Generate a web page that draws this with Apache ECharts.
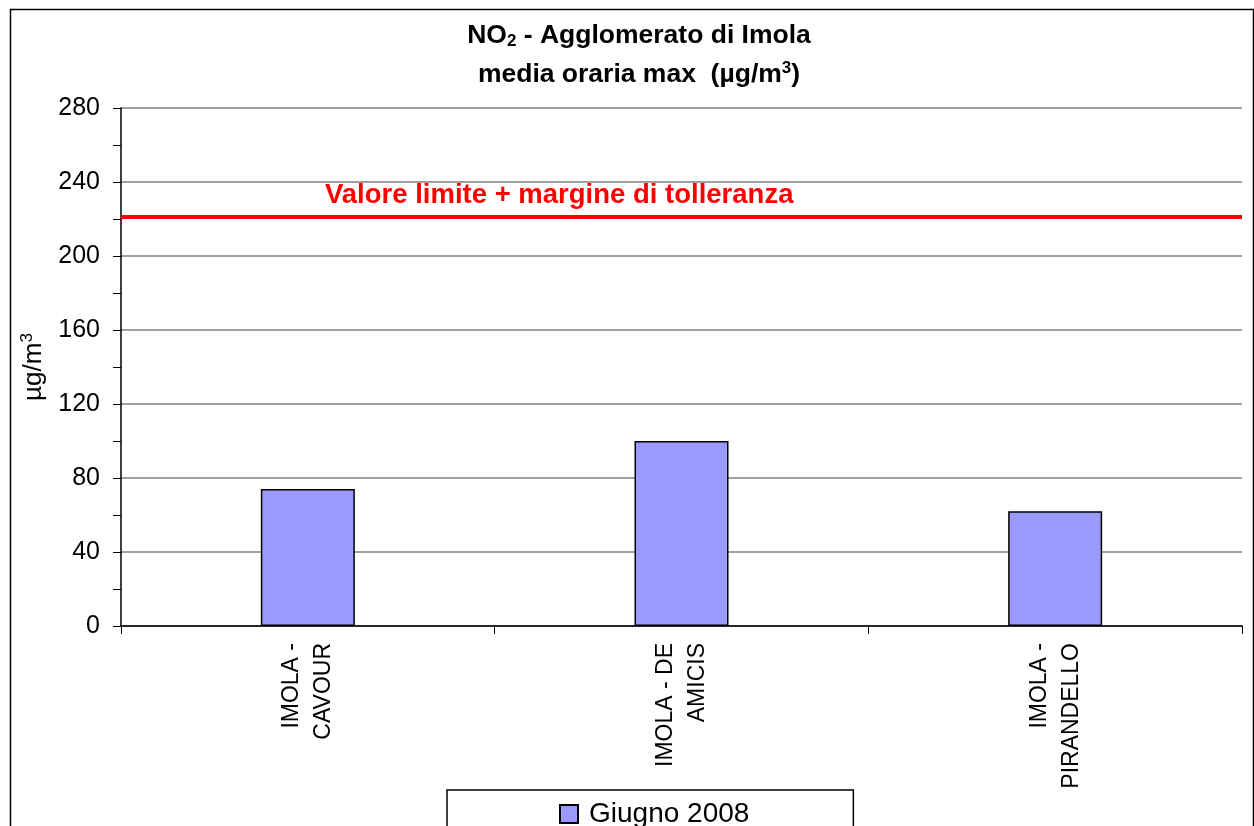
<!DOCTYPE html>
<html>
<head>
<meta charset="utf-8">
<script src="https://cdn.jsdelivr.net/npm/echarts@6/dist/echarts.min.js"></script>
<style>html,body{margin:0;padding:0;background:#fff}#c{width:1254px;height:826px}</style>
</head>
<body>
<div id="c"></div>
<script>
const categories = ['IMOLA -\nCAVOUR', 'IMOLA - DE\nAMICIS', 'IMOLA -\nPIRANDELLO'];
const seriesName = 'Giugno 2008';
const values = [74, 100, 62];
const limitValue = 221;
const limitLabel = 'Valore limite + margine di tolleranza';
const yMin = 0, yMax = 280, yStep = 40;

const chart = echarts.init(document.getElementById('c'));
chart.setOption({
  animation: false,
  backgroundColor: '#fff',
  textStyle: { fontFamily: 'Liberation Sans, Arial, sans-serif' },
  graphic: [{
    type: 'rect', left: 8, top: 7, silent: true,
    shape: { width: 1243, height: 840 },
    style: { fill: 'none', stroke: '#000', lineWidth: 1.5 }
  }],
  title: {
    left: 634, top: 11, textAlign: 'center',
    text: '{b|NO}{sub|2}{b| - Agglomerato di Imola}\n{b|media oraria max  (µg/m}{sup|3}{b|)}',
    textStyle: {
      rich: {
        b: { fontSize: 26.5, fontWeight: 'bold', color: '#000', lineHeight: 39 },
        sub: { fontSize: 17, fontWeight: 'bold', color: '#000', padding: [12, 0, 0, 0], lineHeight: 39 },
        sup: { fontSize: 17, fontWeight: 'bold', color: '#000', padding: [0, 0, 12, 0], lineHeight: 39 }
      }
    }
  },
  legend: {
    top: 790, left: 447,
    padding: [10, 104, 20, 112],
    borderColor: '#000', borderWidth: 1.5,
    itemWidth: 18, itemHeight: 18, itemGap: 10,
    textStyle: { fontSize: 28, color: '#000', padding: [0, 0, 0, 6] },
    data: [{ name: seriesName, icon: 'rect' }]
  },
  grid: { left: 121, right: 12, top: 108, bottom: 200, containLabel: false },
  xAxis: {
    type: 'category', data: categories,
    axisLine: { lineStyle: { color: '#000', width: 1.5 } },
    axisTick: { show: true, length: 8, lineStyle: { color: '#000' }, alignWithLabel: false },
    axisLabel: { rotate: 90, fontSize: 23, color: '#000', margin: 17, lineHeight: 32, interval: 0 },
    splitLine: { show: false }
  },
  yAxis: {
    type: 'value', min: yMin, max: yMax, interval: yStep,
    name: '{n|µg/m}{s|3}', nameLocation: 'middle', nameGap: 72, nameRotate: 90,
    nameTextStyle: {
      color: '#000',
      rich: {
        n: { fontSize: 26, color: '#000' },
        s: { fontSize: 17, color: '#000', padding: [0, 0, 13, 0] }
      }
    },
    axisLine: { show: true, lineStyle: { color: '#000', width: 1.5 } },
    axisTick: { show: true, length: 8, lineStyle: { color: '#000' } },
    minorTick: { show: true, splitNumber: 2, length: 8, lineStyle: { color: '#000' } },
    axisLabel: { fontSize: 25, color: '#000', margin: 21 },
    splitLine: { show: true, lineStyle: { color: '#808080', width: 1.5 } }
  },
  series: [{
    name: seriesName, type: 'bar', data: values, barWidth: 94,
    itemStyle: { color: '#9999FF', borderColor: '#000', borderWidth: 1.5 },
    markLine: {
      silent: true, symbol: 'none',
      lineStyle: { color: '#FF0000', width: 4, type: 'solid' },
      label: {
        show: true, formatter: limitLabel, position: 'insideStartTop',
        distance: [204, 8],
        color: '#FF0000', fontSize: 27.5, fontWeight: 'bold'
      },
      data: [{ yAxis: limitValue }]
    }
  }]
});
</script>
</body>
</html>
